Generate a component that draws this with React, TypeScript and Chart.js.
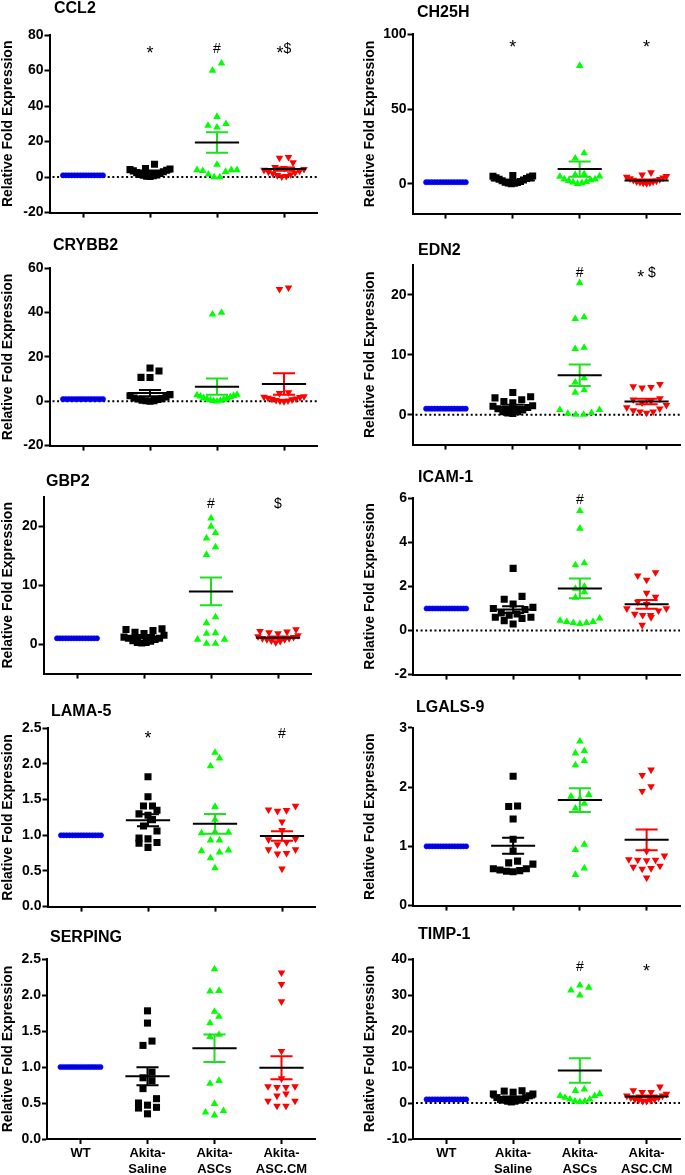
import React, { useEffect, useRef } from 'react';
import { Chart, registerables } from 'chart.js';

Chart.register(...registerables);

const FONT = '"Liberation Sans", Arial, Helvetica, sans-serif';
Chart.defaults.font.family = FONT;
Chart.defaults.color = '#000';

// ---------------- shared labels ----------------
const groupNames = ['WT', 'Akita-Saline', 'Akita-ASCs', 'Akita-ASC.CM'];
const groupTickLabels = [['WT'], ['Akita-', 'Saline'], ['Akita-', 'ASCs'], ['Akita-', 'ASC.CM']];
const yAxisTitle = 'Relative Fold Expression';
const wtValues = [1, 1, 1, 1, 1, 1, 1, 1, 1, 1, 1, 1, 1, 1, 1];

// ---------------- CCL2 ----------------
const ccl2Saline = [7.2, 4.8, 4.5, 4.2, 3.8, 3.5, 3, 2.5, 2, 1.5, 1.2, 1, 0.8, 0.5, 0.3];
const ccl2ASCs = [64, 60, 34, 30, 29, 28, 7, 4, 4, 4, 3.5, 3, 1.5, 0, 0];
const ccl2ASCCM = [11.2, 10.8, 8.2, 5.5, 5, 4.5, 4, 3.5, 3, 2.5, 2, 1.5, 1, 0.5, 0.3];
const ccl2Means = [1, 3.2, 19.5, 4.5];
const ccl2Sems = [0, 0.5, 5.8, 0.9];
const ccl2Marks = ['', '*', '#', '*$'];
const ccl2Ticks = [-20, 0, 20, 40, 60, 80];

// ---------------- CH25H ----------------
const ch25hSaline = [5.5, 5.2, 5, 4.5, 4, 3.5, 3, 2.5, 2, 1.5, 1, 0.8, 0.5, 0.3, 0];
const ch25hASCs = [79, 20.5, 17, 6.5, 6, 5, 4.8, 3, 3, 2.5, 2, 1.2, 1, 0.5, 0];
const ch25hASCCM = [7.5, 6, 5, 4.5, 4, 3.5, 3, 2.5, 2, 1.5, 1.5, 1, 0.8, 0.5, 0.3];
const ch25hMeans = [1, 2.2, 9.8, 2.2];
const ch25hSems = [0, 0.5, 5.1, 0.6];
const ch25hMarks = ['', '*', '', '*'];
const ch25hTicks = [0, 50, 100];

// ---------------- CRYBB2 ----------------
const crybb2Saline = [15, 13.7, 10.8, 10.7, 3, 2.5, 2, 1.5, 1.2, 1, 0.8, 0.5, 0.3, 0.2, 0];
const crybb2ASCs = [40, 39.2, 3, 2.8, 2.5, 2.2, 2, 1.5, 1.2, 1, 0.8, 0.5, 0.3, 0.2, 0];
const crybb2ASCCM = [51.3, 50.6, 4, 3.6, 2.2, 2, 1.8, 1.5, 1.2, 1, 0.8, 0.5, 0.3, 0.2, 0];
const crybb2Means = [1, 3.7, 6.6, 7.8];
const crybb2Sems = [0, 1.4, 3.7, 4.8];
const crybb2Marks = ['', '', '', ''];
const crybb2Ticks = [-20, 0, 20, 40, 60];

// ---------------- EDN2 ----------------
const edn2Saline = [3.7, 3, 2.8, 2.5, 2.2, 2, 1.5, 1.4, 1.2, 1, 0.8, 0.5, 0.5, 0.3, 0.2];
const edn2ASCs = [22, 16.3, 16, 11.2, 11, 6.1, 5.4, 4.1, 3.7, 0.8, 0.8, 0.3, 0.2, 0, 0];
const edn2ASCCM = [5.1, 4.7, 4.6, 4.5, 2.7, 2.5, 2.3, 2, 1.6, 1.2, 1, 0.7, 0.5, 0.5, 0.3];
const edn2Means = [1, 1.3, 6.6, 2.2];
const edn2Sems = [0, 0.35, 1.8, 0.45];
const edn2Marks = ['', '', '#', '* $'];
const edn2Ticks = [0, 10, 20];

// ---------------- GBP2 ----------------
const gbp2Saline = [2.6, 2.5, 2.3, 2, 1.8, 1.5, 1.2, 1, 1, 0.8, 0.6, 0.5, 0.3, 0.3, 0.2];
const gbp2ASCs = [21.4, 20, 18.9, 18, 16.5, 15.2, 4.6, 3.6, 1.9, 1.8, 0.8, 0.8, 0.1, 0.1];
const gbp2ASCCM = [2.5, 2.2, 2.1, 2, 1.8, 1.5, 1.3, 1.2, 1, 1, 0.8, 0.8, 0.6, 0.5, 0.3];
const gbp2Means = [1, 1.3, 8.96, 1.1];
const gbp2Sems = [0, 0.25, 2.35, 0.2];
const gbp2Marks = ['', '', '#', '$'];
const gbp2Ticks = [0, 10, 20];

// ---------------- ICAM-1 ----------------
const icam1Saline = [2.82, 1.55, 1.42, 1.2, 1.05, 1, 0.95, 0.8, 0.75, 0.7, 0.6, 0.6, 0.55, 0.45, 0.3];
const icam1ASCs = [5.43, 4.63, 3.06, 2.97, 2, 1.9, 1.75, 1.5, 0.55, 0.45, 0.4, 0.4, 0.35, 0.35, 0.3];
const icam1ASCCM = [2.64, 2.49, 2.3, 1.7, 1.52, 1.3, 1.2, 1, 1, 0.9, 0.75, 0.7, 0.7, 0.6, 0.25];
const icam1Means = [1, 0.95, 1.91, 1.19];
const icam1Sems = [0, 0.15, 0.45, 0.2];
const icam1Marks = ['', '', '#', ''];
const icam1Ticks = [-2, 0, 2, 4, 6];

// ---------------- LAMA-5 ----------------
const lama5Saline = [1.82, 1.54, 1.41, 1.41, 1.35, 1.3, 1.28, 1.22, 1.13, 1.06, 0.96, 0.95, 0.9, 0.89, 0.83];
const lama5ASCs = [2.16, 2.08, 1.97, 1.4, 1.22, 1.05, 1.04, 1.03, 0.93, 0.93, 0.79, 0.78, 0.76, 0.68, 0.54];
const lama5ASCCM = [1.41, 1.36, 1.35, 1.34, 1.19, 1.07, 0.95, 0.94, 0.9, 0.87, 0.8, 0.8, 0.75, 0.74, 0.53];
const lama5Means = [1, 1.21, 1.16, 0.99];
const lama5Sems = [0, 0.085, 0.14, 0.065];
const lama5Marks = ['', '*', '', '#'];
const lama5Ticks = [0, 0.5, 1, 1.5, 2, 2.5];

// ---------------- LGALS-9 ----------------
const lgals9Saline = [2.18, 1.68, 1.67, 1.46, 1.12, 0.92, 0.75, 0.72, 0.7, 0.62, 0.62, 0.6, 0.59, 0.58, 0.57];
const lgals9ASCs = [2.77, 2.61, 2.57, 2.44, 2.37, 1.87, 1.84, 1.8, 1.72, 1.64, 1.03, 0.94, 0.63, 0.52];
const lgals9ASCCM = [2.29, 2.2, 2.01, 1.93, 0.92, 0.84, 0.78, 0.77, 0.77, 0.76, 0.67, 0.65, 0.63, 0.62, 0.47];
const lgals9Means = [1, 1.01, 1.78, 1.11];
const lgals9Sems = [0, 0.135, 0.2, 0.175];
const lgals9Marks = ['', '', '', ''];
const lgals9Ticks = [0, 1, 2, 3];

// ---------------- SERPING ----------------
const serpingSaline = [1.78, 1.61, 1.36, 1.3, 0.93, 0.85, 0.81, 0.7, 0.56, 0.5, 0.47, 0.44, 0.43, 0.35];
const serpingASCs = [2.36, 2.06, 2.05, 1.77, 1.7, 1.61, 1.45, 1.42, 0.81, 0.77, 0.49, 0.39, 0.37, 0.33];
const serpingASCCM = [2.31, 2.15, 1.91, 1.22, 0.84, 0.73, 0.73, 0.72, 0.72, 0.63, 0.6, 0.53, 0.53, 0.46, 0.46];
const serpingMeans = [1, 0.87, 1.26, 0.99];
const serpingSems = [0, 0.125, 0.19, 0.16];
const serpingMarks = ['', '', '', ''];
const serpingTicks = [0, 0.5, 1, 1.5, 2, 2.5];

// ---------------- TIMP-1 ----------------
const timp1Saline = [3.4, 3.3, 3, 2.5, 2.5, 2, 1.5, 1.5, 1, 1, 0.8, 0.8, 0.5, 0.5, 0.3];
const timp1ASCs = [32.7, 32.1, 31.3, 29.9, 3.8, 3.4, 2.5, 2, 2, 1.5, 1, 1, 0.5, 0.5, 0.3];
const timp1ASCCM = [4.5, 3.5, 3, 3, 2.5, 2, 2, 1.5, 1.5, 1, 1, 0.8, 0.8, 0.5, 0.5];
const timp1Means = [1, 1.5, 9.0, 1.8];
const timp1Sems = [0, 0.3, 3.4, 0.3];
const timp1Marks = ['', '', '#', '*'];
const timp1Ticks = [-10, 0, 10, 20, 30, 40];

// ---------------- styles ----------------
const pointColors = ['#0000ff', '#000000', '#00ff00', '#ff0000'];
const errorColors = ['#0000ff', '#000000', '#1ee01e', '#ff0000'];
const meanColors = ['#0000b4', '#000000', '#000000', '#000000'];
const pointStyles = ['circle', 'rect', 'triangle', 'triangle'];
const pointRadii = [2.6, 5, 4.4, 4.4];
const pointRotations = [0, 0, 0, 180];
const MEAN_HALF = 0.33;
const WT_MEAN_HALF = 0.3;
const CAP_HALF = 0.165;

// layout: area = [left, top, right, bottom] of plot area in page pixels
const panels = [
  { name: 'CCL2', groups: [wtValues, ccl2Saline, ccl2ASCs, ccl2ASCCM], means: ccl2Means, sems: ccl2Sems, marks: ccl2Marks, markAt: 70, yMin: -20, yMax: 80, ticks: ccl2Ticks, zero: true, col: 0, area: [49.5, 35, 317.5, 213.3], titleX: 54, titleY: 9, bottom: false, dec: false },
  { name: 'CH25H', groups: [wtValues, ch25hSaline, ch25hASCs, ch25hASCCM], means: ch25hMeans, sems: ch25hSems, marks: ch25hMarks, markAt: 91.3, yMin: -20, yMax: 100, ticks: ch25hTicks, zero: false, col: 1, area: [412.5, 34.3, 682.5, 214.3], titleX: 417, titleY: 13, bottom: false, dec: false },
  { name: 'CRYBB2', groups: [wtValues, crybb2Saline, crybb2ASCs, crybb2ASCCM], means: crybb2Means, sems: crybb2Sems, marks: crybb2Marks, markAt: 0, yMin: -20, yMax: 60, ticks: crybb2Ticks, zero: true, col: 0, area: [49.5, 268.3, 317.5, 446.7], titleX: 53, titleY: 245.5, bottom: false, dec: false },
  { name: 'EDN2', groups: [wtValues, edn2Saline, edn2ASCs, edn2ASCCM], means: edn2Means, sems: edn2Sems, marks: edn2Marks, markAt: 23, yMin: -5, yMax: 25, ticks: edn2Ticks, zero: true, col: 1, area: [412.5, 265, 682.5, 446], titleX: 418, titleY: 250.5, bottom: false, dec: false },
  { name: 'GBP2', groups: [wtValues, gbp2Saline, gbp2ASCs, gbp2ASCCM], means: gbp2Means, sems: gbp2Sems, marks: gbp2Marks, markAt: 23.2, yMin: -5, yMax: 25, ticks: gbp2Ticks, zero: false, col: 0, area: [43.5, 497, 311.5, 675], titleX: 46, titleY: 481.5, bottom: false, dec: false },
  { name: 'ICAM-1', groups: [wtValues, icam1Saline, icam1ASCs, icam1ASCCM], means: icam1Means, sems: icam1Sems, marks: icam1Marks, markAt: 5.74, yMin: -2, yMax: 6, ticks: icam1Ticks, zero: true, col: 1, area: [413, 498.3, 683, 676], titleX: 418, titleY: 477.5, bottom: false, dec: false },
  { name: 'LAMA-5', groups: [wtValues, lama5Saline, lama5ASCs, lama5ASCCM], means: lama5Means, sems: lama5Sems, marks: lama5Marks, markAt: 2.36, yMin: 0, yMax: 2.5, ticks: lama5Ticks, zero: false, col: 0, area: [47.5, 728.3, 315.5, 907.3], titleX: 51, titleY: 711.5, bottom: false, dec: true },
  { name: 'LGALS-9', groups: [wtValues, lgals9Saline, lgals9ASCs, lgals9ASCCM], means: lgals9Means, sems: lgals9Sems, marks: lgals9Marks, markAt: 0, yMin: 0, yMax: 3, ticks: lgals9Ticks, zero: false, col: 1, area: [413, 727.7, 683, 906.7], titleX: 416, titleY: 708, bottom: false, dec: false },
  { name: 'SERPING', groups: [wtValues, serpingSaline, serpingASCs, serpingASCCM], means: serpingMeans, sems: serpingSems, marks: serpingMarks, markAt: 0, yMin: 0, yMax: 2.5, ticks: serpingTicks, zero: false, col: 0, area: [47, 959, 315, 1138.3], titleX: 50, titleY: 937.5, bottom: true, dec: true },
  { name: 'TIMP-1', groups: [wtValues, timp1Saline, timp1ASCs, timp1ASCCM], means: timp1Means, sems: timp1Sems, marks: timp1Marks, markAt: 36.7, yMin: -10, yMax: 40, ticks: timp1Ticks, zero: true, col: 1, area: [413, 959, 683, 1138.3], titleX: 418, titleY: 935, bottom: true, dec: false },
];

const COLS = [
  { x: 0, w: 340, titlePad: 0 },
  { x: 360, w: 325, titlePad: 1.6 },
];

// GraphPad-like horizontal spreading of points that share (nearly) the same value
const ROW_PX = 8;
const STEP_PX = 9;
const MAX_W = 40;
function spreadOffsets(values: number[], pxPerUnit: number, pxPerCat: number): number[] {
  const idx = values.map((_, i) => i).sort((a, b) => values[a] - values[b]);
  const out = new Array(values.length).fill(0);
  let i = 0;
  while (i < idx.length) {
    const start = values[idx[i]];
    let j = i;
    while (j + 1 < idx.length && (values[idx[j + 1]] - start) * pxPerUnit < ROW_PX) j++;
    const n = j - i + 1;
    const step = n > 1 ? Math.min(STEP_PX, MAX_W / (n - 1)) : 0;
    const pos: number[] = [];
    for (let k = 0; k < n; k++) pos.push((k - (n - 1) / 2) * step);
    pos.sort((a, b) => Math.abs(a) - Math.abs(b) || a - b);
    for (let k = 0; k < n; k++) out[idx[i + k]] = pos[k] / pxPerCat;
    i = j + 1;
  }
  return out;
}

function buildConfig(p: any, canvasX: number, canvasTop: number, canvasW: number, canvasH: number, titlePad: number) {
  const [aL, aT, aR, aB] = p.area;
  const xAxisH = p.bottom ? 36 : 8;
  const pxPerUnit = (aB - aT) / (p.yMax - p.yMin);
  const pxPerCat = (aR - aL) / 4;

  const datasets = p.groups.map((vals: number[], gi: number) => {
    const offs = spreadOffsets(vals, pxPerUnit, pxPerCat);
    return {
      label: groupNames[gi],
      data: vals.map((v, k) => ({ x: gi + offs[k], y: v })),
      pointStyle: pointStyles[gi],
      pointRadius: pointRadii[gi],
      pointHoverRadius: pointRadii[gi],
      pointRotation: pointRotations[gi],
      backgroundColor: pointColors[gi],
      borderColor: pointColors[gi],
      borderWidth: gi === 0 ? 0.6 : 0,
    };
  });

  const extras = {
    id: 'panelExtras',
    beforeDatasetsDraw(chart: any) {
      if (!p.zero) return;
      const { ctx, chartArea, scales } = chart;
      const y = scales.y.getPixelForValue(0);
      ctx.save();
      ctx.strokeStyle = '#000';
      ctx.lineWidth = 2;
      ctx.setLineDash([2, 2.6]);
      ctx.beginPath();
      ctx.moveTo(chartArea.left + 3, y);
      ctx.lineTo(chartArea.right, y);
      ctx.stroke();
      ctx.restore();
    },
    afterDatasetsDraw(chart: any) {
      const { ctx } = chart;
      const xs = chart.scales.x;
      const ys = chart.scales.y;
      ctx.save();
      p.means.forEach((m: number, gi: number) => {
        const s = p.sems[gi];
        const xc = xs.getPixelForValue(gi);
        if (s > 0) {
          const cap = xs.getPixelForValue(gi + CAP_HALF) - xc;
          const yT = ys.getPixelForValue(m + s);
          const yB = ys.getPixelForValue(m - s);
          ctx.strokeStyle = errorColors[gi];
          ctx.lineWidth = 2;
          ctx.beginPath();
          ctx.moveTo(xc, yT);
          ctx.lineTo(xc, yB);
          ctx.moveTo(xc - cap, yT);
          ctx.lineTo(xc + cap, yT);
          ctx.moveTo(xc - cap, yB);
          ctx.lineTo(xc + cap, yB);
          ctx.stroke();
        }
        const half = xs.getPixelForValue(gi + (gi === 0 ? WT_MEAN_HALF : MEAN_HALF)) - xc;
        const ym = ys.getPixelForValue(m);
        ctx.strokeStyle = meanColors[gi];
        ctx.lineWidth = gi === 0 ? 1.5 : 2;
        ctx.beginPath();
        ctx.moveTo(xc - half, ym);
        ctx.lineTo(xc + half, ym);
        ctx.stroke();
      });
      ctx.restore();
    },
    afterDraw(chart: any) {
      const { ctx } = chart;
      const xs = chart.scales.x;
      const ys = chart.scales.y;
      ctx.save();
      // panel title
      ctx.fillStyle = '#000';
      ctx.font = `bold 16px ${FONT}`;
      ctx.textAlign = 'left';
      ctx.textBaseline = 'middle';
      ctx.fillText(p.name, p.titleX - canvasX, p.titleY - canvasTop);
      // significance marks
      ctx.textBaseline = 'alphabetic';
      const yBase = ys.getPixelForValue(p.markAt);
      const fontFor = (c: string) => (c === '*' ? `18px ${FONT}` : `14px ${FONT}`);
      p.marks.forEach((mk: string, gi: number) => {
        if (!mk) return;
        const chars = mk.split('');
        const widths = chars.map((c) => {
          ctx.font = fontFor(c);
          return ctx.measureText(c).width;
        });
        const total = widths.reduce((a, b) => a + b, 0);
        let x = xs.getPixelForValue(gi) - total / 2;
        chars.forEach((c, k) => {
          ctx.font = fontFor(c);
          if (c !== ' ') ctx.fillText(c, x, c === '*' ? yBase + 6 : yBase);
          x += widths[k];
        });
      });
      ctx.restore();
    },
  };

  return {
    type: 'scatter',
    data: { datasets },
    options: {
      animation: false,
      responsive: false,
      events: [],
      layout: { padding: { left: 0, top: aT - canvasTop, right: canvasW - (aR - canvasX), bottom: 0 } },
      plugins: { legend: { display: false }, tooltip: { enabled: false }, title: { display: false } },
      scales: {
        x: {
          type: 'linear',
          min: -0.5,
          max: 3.5,
          afterBuildTicks: (s: any) => { s.ticks = [0, 1, 2, 3].map((v) => ({ value: v })); },
          afterFit: (s: any) => { s.height = xAxisH; },
          grid: { display: true, drawOnChartArea: false, drawTicks: true, tickLength: 5, tickWidth: 2, tickColor: '#000' },
          border: { display: true, color: '#000', width: 2 },
          ticks: {
            display: p.bottom,
            autoSkip: false,
            maxRotation: 0,
            minRotation: 0,
            padding: 2,
            color: '#000',
            font: { size: 13, weight: 'bold', family: FONT },
            callback: (v: number) => groupTickLabels[Math.round(v)] || '',
          },
        },
        y: {
          type: 'linear',
          min: p.yMin,
          max: p.yMax,
          afterBuildTicks: (s: any) => { s.ticks = p.ticks.map((v: number) => ({ value: v })); },
          afterFit: (s: any) => { s.width = aL - canvasX; },
          grid: { display: true, drawOnChartArea: false, drawTicks: true, tickLength: 5, tickWidth: 2, tickColor: '#000' },
          border: { display: true, color: '#000', width: 2 },
          ticks: {
            padding: 1,
            color: '#000',
            font: { size: 14, weight: 'bold', family: FONT },
            callback: (v: number) => (p.dec ? Number(v).toFixed(1) : String(v)),
          },
          title: {
            display: true,
            text: yAxisTitle,
            color: '#000',
            font: { size: 14, weight: 'bold', family: FONT },
            padding: { top: titlePad, bottom: 0 },
          },
        },
      },
    },
    plugins: [extras],
  };
}

function Panel({ p }: { p: any }) {
  const ref = useRef<HTMLCanvasElement | null>(null);
  const col = COLS[p.col];
  const canvasX = col.x;
  const canvasTop = Math.max(0, Math.floor(p.titleY - 12));
  const xAxisH = p.bottom ? 36 : 8;
  const canvasH = Math.ceil(p.area[3] + xAxisH - canvasTop);
  const canvasW = col.w;

  useEffect(() => {
    if (!ref.current) return;
    const chart = new Chart(ref.current, buildConfig(p, canvasX, canvasTop, canvasW, canvasH, col.titlePad) as any);
    return () => chart.destroy();
  }, []);

  return (
    <canvas
      ref={ref}
      width={canvasW}
      height={canvasH}
      style={{ position: 'absolute', left: canvasX, top: canvasTop, width: canvasW, height: canvasH }}
    />
  );
}

export default function App() {
  return (
    <div style={{ position: 'absolute', left: 0, top: 0, width: 685, height: 1175, background: '#fff', overflow: 'hidden' }}>
      {panels.map((p) => (
        <Panel key={p.name} p={p} />
      ))}
    </div>
  );
}
